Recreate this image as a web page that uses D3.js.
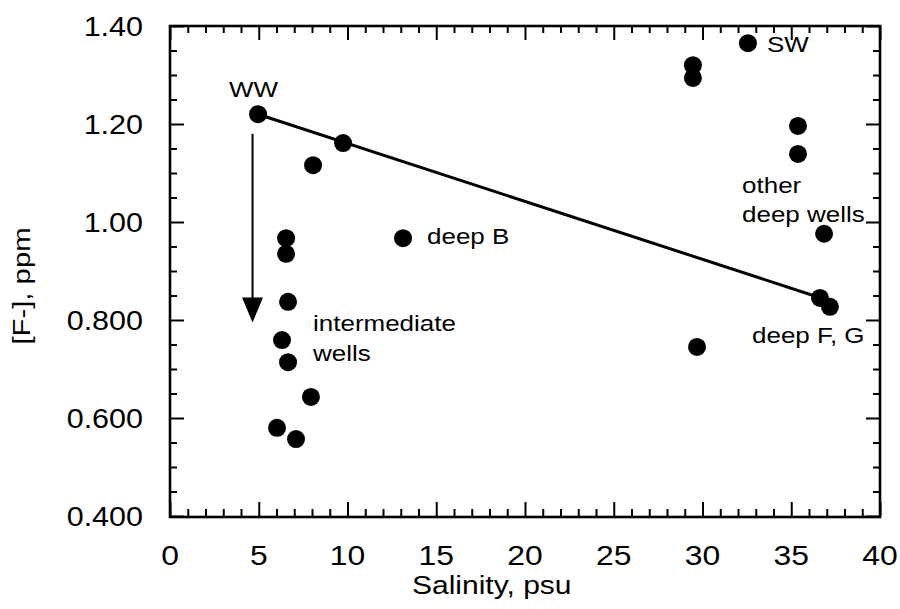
<!DOCTYPE html>
<html><head><meta charset="utf-8">
<script src="https://cdn.jsdelivr.net/npm/d3@7"></script>
<style>
html,body{margin:0;padding:0;background:#fff;}
text{font-family:"Liberation Sans",Arial,Helvetica,sans-serif;fill:#000;}
</style></head>
<body>
<svg id="chart" width="900" height="609"></svg>
<script>
// ---- data ----
const salinity = [4.96, 9.75, 8.06, 6.54, 6.54, 6.65, 6.31, 6.65, 7.94, 6.03, 7.10, 13.13, 32.56, 29.46, 29.46, 35.38, 35.38, 36.85, 36.62, 37.18, 29.69];
const fluoride = [1.220, 1.161, 1.116, 0.967, 0.935, 0.837, 0.759, 0.714, 0.643, 0.580, 0.557, 0.967, 1.365, 1.320, 1.294, 1.196, 1.139, 0.976, 0.845, 0.827, 0.745];
const mixLineX = [4.96, 36.5];
const mixLineY = [1.220, 0.847];
const arrowX = [4.65, 4.65];
const arrowY = [1.18, 0.795];
const xTicks = [0, 5, 10, 15, 20, 25, 30, 35, 40];
const xTickLabels = ["0", "5", "10", "15", "20", "25", "30", "35", "40"];
const yTicks = [1.4, 1.2, 1.0, 0.8, 0.6, 0.4];
const yTickLabels = ["1.40", "1.20", "1.00", "0.800", "0.600", "0.400"];
const labelText = ["WW", "SW", "other", "deep wells", "deep B", "deep F, G", "intermediate", "wells"];
const labelX = [3.32, 33.63, 32.23, 32.23, 14.48, 32.79, 8.06, 8.06];
const labelY = [1.255, 1.347, 1.059, 1.0, 0.955, 0.753, 0.778, 0.716];
const xTitle = "Salinity, psu";
const yTitle = "[F-], ppm";

// ---- layout ----
const svg = d3.select("#chart");
const L = 170, R = 880, T = 26, B = 516;
const x = d3.scaleLinear().domain([0, 40]).range([L, R]);
const y = d3.scaleLinear().domain([0.4, 1.4]).range([B, T]);

const majLen = 14, minLen = 7;
const g = svg.append("g");

const xMinor = d3.range(0, 41, 1).filter(v => v % 5 !== 0);
const yMinor = d3.range(0, 21).map(i => 0.4 + i * 0.05).filter((v, i) => i % 4 !== 0);

function addAxis(axisFn, scale, vals, len, tx, ty){
  g.append("g").attr("transform", `translate(${tx},${ty})`)
    .call(axisFn(scale).tickValues(vals).tickSize(-len).tickFormat(""));
}
addAxis(d3.axisBottom, x, xTicks, majLen, 0, B);
addAxis(d3.axisBottom, x, xMinor, minLen, 0, B);
addAxis(d3.axisTop, x, xTicks, majLen, 0, T);
addAxis(d3.axisTop, x, xMinor, minLen, 0, T);
addAxis(d3.axisLeft, y, yTicks, majLen, L, 0);
addAxis(d3.axisLeft, y, yMinor, minLen, L, 0);
addAxis(d3.axisRight, y, yTicks, majLen, R, 0);
addAxis(d3.axisRight, y, yMinor, minLen, R, 0);
g.selectAll(".domain").remove();
g.selectAll(".tick line").attr("stroke", "#000").attr("stroke-width", 2);

// frame
svg.append("rect").attr("x", L).attr("y", T).attr("width", R - L).attr("height", B - T + 1)
  .attr("fill", "none").attr("stroke", "#000").attr("stroke-width", 2.6);

// tick labels (wide face emulated with horizontal scale)
svg.append("g").selectAll("text").data(xTicks).join("text")
  .attr("transform", d => `translate(${x(d)},565) scale(1.18,1)`)
  .attr("text-anchor", "middle").attr("font-size", 27)
  .text((d, i) => xTickLabels[i]);
svg.append("g").selectAll("text").data(yTicks).join("text")
  .attr("transform", d => `translate(143,${y(d)}) scale(1.13,1)`).attr("dy", "0.36em")
  .attr("text-anchor", "end").attr("font-size", 27)
  .text((d, i) => yTickLabels[i]);

// axis titles
svg.append("text").attr("transform", "translate(412,594) scale(1.2,1)")
  .attr("font-size", 25).text(xTitle);
svg.append("text").attr("transform", "translate(30,286) rotate(-90) scale(1.22,1)").attr("text-anchor", "middle")
  .attr("font-size", 24).text(yTitle);

// mixing line
svg.append("line").attr("x1", x(mixLineX[0])).attr("y1", y(mixLineY[0]))
  .attr("x2", x(mixLineX[1])).attr("y2", y(mixLineY[1]))
  .attr("stroke", "#000").attr("stroke-width", 3);

// arrow
const ax = x(arrowX[0]), ay1 = y(arrowY[0]), ay2 = y(arrowY[1]);
svg.append("line").attr("x1", ax).attr("y1", ay1).attr("x2", ax).attr("y2", ay2 - 20)
  .attr("stroke", "#000").attr("stroke-width", 2);
svg.append("path").attr("d", `M${ax - 10.5},${ay2 - 25} L${ax + 10.5},${ay2 - 25} L${ax},${ay2} Z`).attr("fill", "#000");

// points
svg.append("g").selectAll("circle").data(salinity).join("circle")
  .attr("cx", d => x(d)).attr("cy", (d, i) => y(fluoride[i])).attr("r", 9).attr("fill", "#000");

// annotations
svg.append("g").selectAll("text").data(labelText).join("text")
  .attr("transform", (d, i) => `translate(${x(labelX[i])},${y(labelY[i])}) scale(1.18,1)`)
  .attr("font-size", 22)
  .text(d => d);
</script>
</body></html>
